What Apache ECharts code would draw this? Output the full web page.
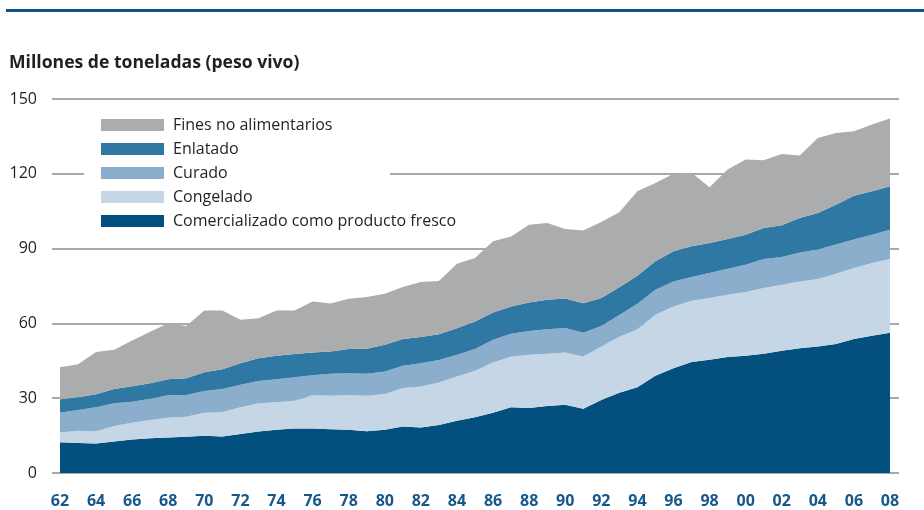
<!DOCTYPE html>
<html>
<head>
<meta charset="utf-8">
<script src="https://cdn.jsdelivr.net/npm/echarts@6/dist/echarts.min.js"></script>
<style>
html,body{margin:0;padding:0;background:#fff;}
#c{width:924px;height:510px;}
</style>
</head>
<body>
<div id="c"></div>
<script>
// Years (x values)
var years = [1962,1963,1964,1965,1966,1967,1968,1969,1970,1971,1972,1973,1974,1975,1976,1977,1978,1979,1980,1981,1982,1983,1984,1985,1986,1987,1988,1989,1990,1991,1992,1993,1994,1995,1996,1997,1998,1999,2000,2001,2002,2003,2004,2005,2006,2007,2008];
// Tick labels on x axis
var tickYears = [1962,1964,1966,1968,1970,1972,1974,1976,1978,1980,1982,1984,1986,1988,1990,1992,1994,1996,1998,2000,2002,2004,2006,2008];
// Series values (million tonnes, live weight), stacked bottom to top
var fresco = [12.3,12.0,11.8,12.6,13.4,13.9,14.2,14.5,14.9,14.6,15.6,16.6,17.3,17.8,17.8,17.5,17.3,16.7,17.3,18.6,18.2,19.3,21.0,22.4,24.2,26.4,26.1,26.9,27.4,25.8,29.3,32.2,34.4,39.0,42.0,44.5,45.4,46.5,47.0,47.8,49.0,50.0,50.7,51.7,53.7,55.0,56.3];
var congelado = [3.9,4.9,4.9,6.3,6.8,7.4,8.0,8.1,9.3,9.9,10.8,11.4,11.1,11.2,13.4,13.5,14.0,14.3,14.4,15.5,16.5,17.0,17.7,18.6,20.1,20.3,21.3,20.9,20.9,20.9,21.4,22.4,23.3,24.5,24.8,24.6,24.8,25.0,25.6,26.4,26.5,26.8,27.1,28.2,28.5,29.2,29.5];
var curado = [8.0,8.4,9.7,9.1,8.4,8.5,9.0,8.7,8.7,9.2,9.0,8.9,9.2,9.4,8.0,8.8,8.7,8.8,9.0,8.9,9.3,9.0,8.7,8.7,9.1,9.1,9.6,9.9,9.9,9.6,8.3,8.8,10.2,10.0,10.0,9.5,10.0,10.4,10.9,11.6,11.1,11.6,11.8,11.7,11.4,11.4,11.8];
var enlatado = [5.4,5.1,5.2,5.7,6.2,6.2,6.4,6.7,7.5,7.9,8.6,9.1,9.4,9.3,9.1,8.9,9.7,10.0,10.7,10.7,10.5,10.3,10.7,11.1,11.0,11.0,11.4,11.8,11.8,11.8,11.2,11.1,11.2,11.4,12.1,12.3,12.0,12.0,12.1,12.5,12.8,13.9,14.7,16.0,17.6,17.4,17.4];
var fines = [12.8,13.2,16.9,15.7,18.3,20.7,22.5,21.0,24.8,23.6,17.5,16.1,18.2,17.5,20.5,19.3,20.2,20.8,20.5,20.9,22.1,21.4,25.8,25.4,28.5,28.1,31.2,30.8,27.9,29.2,30.5,30.1,33.9,31.4,31.1,29.5,22.4,27.8,30.1,27.1,28.5,25.0,30.1,28.8,25.9,26.8,27.2];
// Series names
var names = ['Comercializado como producto fresco','Congelado','Curado','Enlatado','Fines no alimentarios'];
var colors = ['#034f7e','#c5d6e6','#8aaecb','#2f78a4','#abacae'];
var values = [fresco, congelado, curado, enlatado, fines];
// Y axis ticks
var yMax = 150, yStep = 30;

// value first so that stacking happens on the y dimension
function pairs(arr){ return arr.map(function(v,i){ return [v, years[i]]; }); }

var FONT = '"Open Sans", "Noto Sans", sans-serif';
var series = names.map(function(n,i){
  return {
    name: n, type: 'line', stack: 'total', data: pairs(values[i]),
    encode: {x: 1, y: 0},
    symbol: 'none', showSymbol: false,
    lineStyle: {width: 0, opacity: 0},
    areaStyle: {color: colors[i], opacity: 1},
    itemStyle: {color: colors[i]},
    emphasis: {disabled: true},
    silent: true, z: 2
  };
});

var chart = echarts.init(document.getElementById('c'), null, {renderer: 'canvas'});
chart.setOption({
  animation: false,
  backgroundColor: '#fff',
  textStyle: {fontFamily: FONT},
  grid: {left: 52, right: 25, top: 99, bottom: 37, containLabel: false},
  xAxis: {
    type: 'value', min: 1961.557, max: 2008.499,
    axisLine: {show: false}, axisTick: {show: false}, splitLine: {show: false},
    axisLabel: {
      customValues: tickYears,
      formatter: function(v){ return String(v).slice(2); },
      color: '#17588b', fontWeight: 'bold', fontSize: 16, fontFamily: FONT, margin: 20
    }
  },
  yAxis: {
    type: 'value', min: 0, max: yMax, interval: yStep,
    axisLine: {show: false}, axisTick: {show: false},
    splitLine: {show: true, lineStyle: {color: '#8c8c8c', width: 1.5}},
    axisLabel: {color: '#231f20', fontSize: 16, fontFamily: FONT, margin: 15}
  },
  legend: {
    orient: 'vertical', left: 101, top: 117, z: 5, padding: 0,
    data: names.slice().reverse(),
    icon: 'rect', itemWidth: 63, itemHeight: 12, itemGap: 8,
    textStyle: {fontSize: 16, color: '#231f20', fontFamily: FONT, padding: [0,0,0,4]},
    selectedMode: false
  },
  graphic: [
    {type: 'rect', z: 1, shape: {x: 84, y: 108, width: 306, height: 126}, style: {fill: '#fff'}, silent: true},
    {type: 'rect', z: 10, shape: {x: 6, y: 9, width: 918, height: 3}, style: {fill: '#0d5286'}, silent: true},
    {type: 'text', z: 10, left: 9, top: 54, style: {text: 'Millones de toneladas (peso vivo)', font: 'bold 17.6px ' + FONT, fill: '#231f20'}}
  ],
  series: series
});
</script>
</body>
</html>
